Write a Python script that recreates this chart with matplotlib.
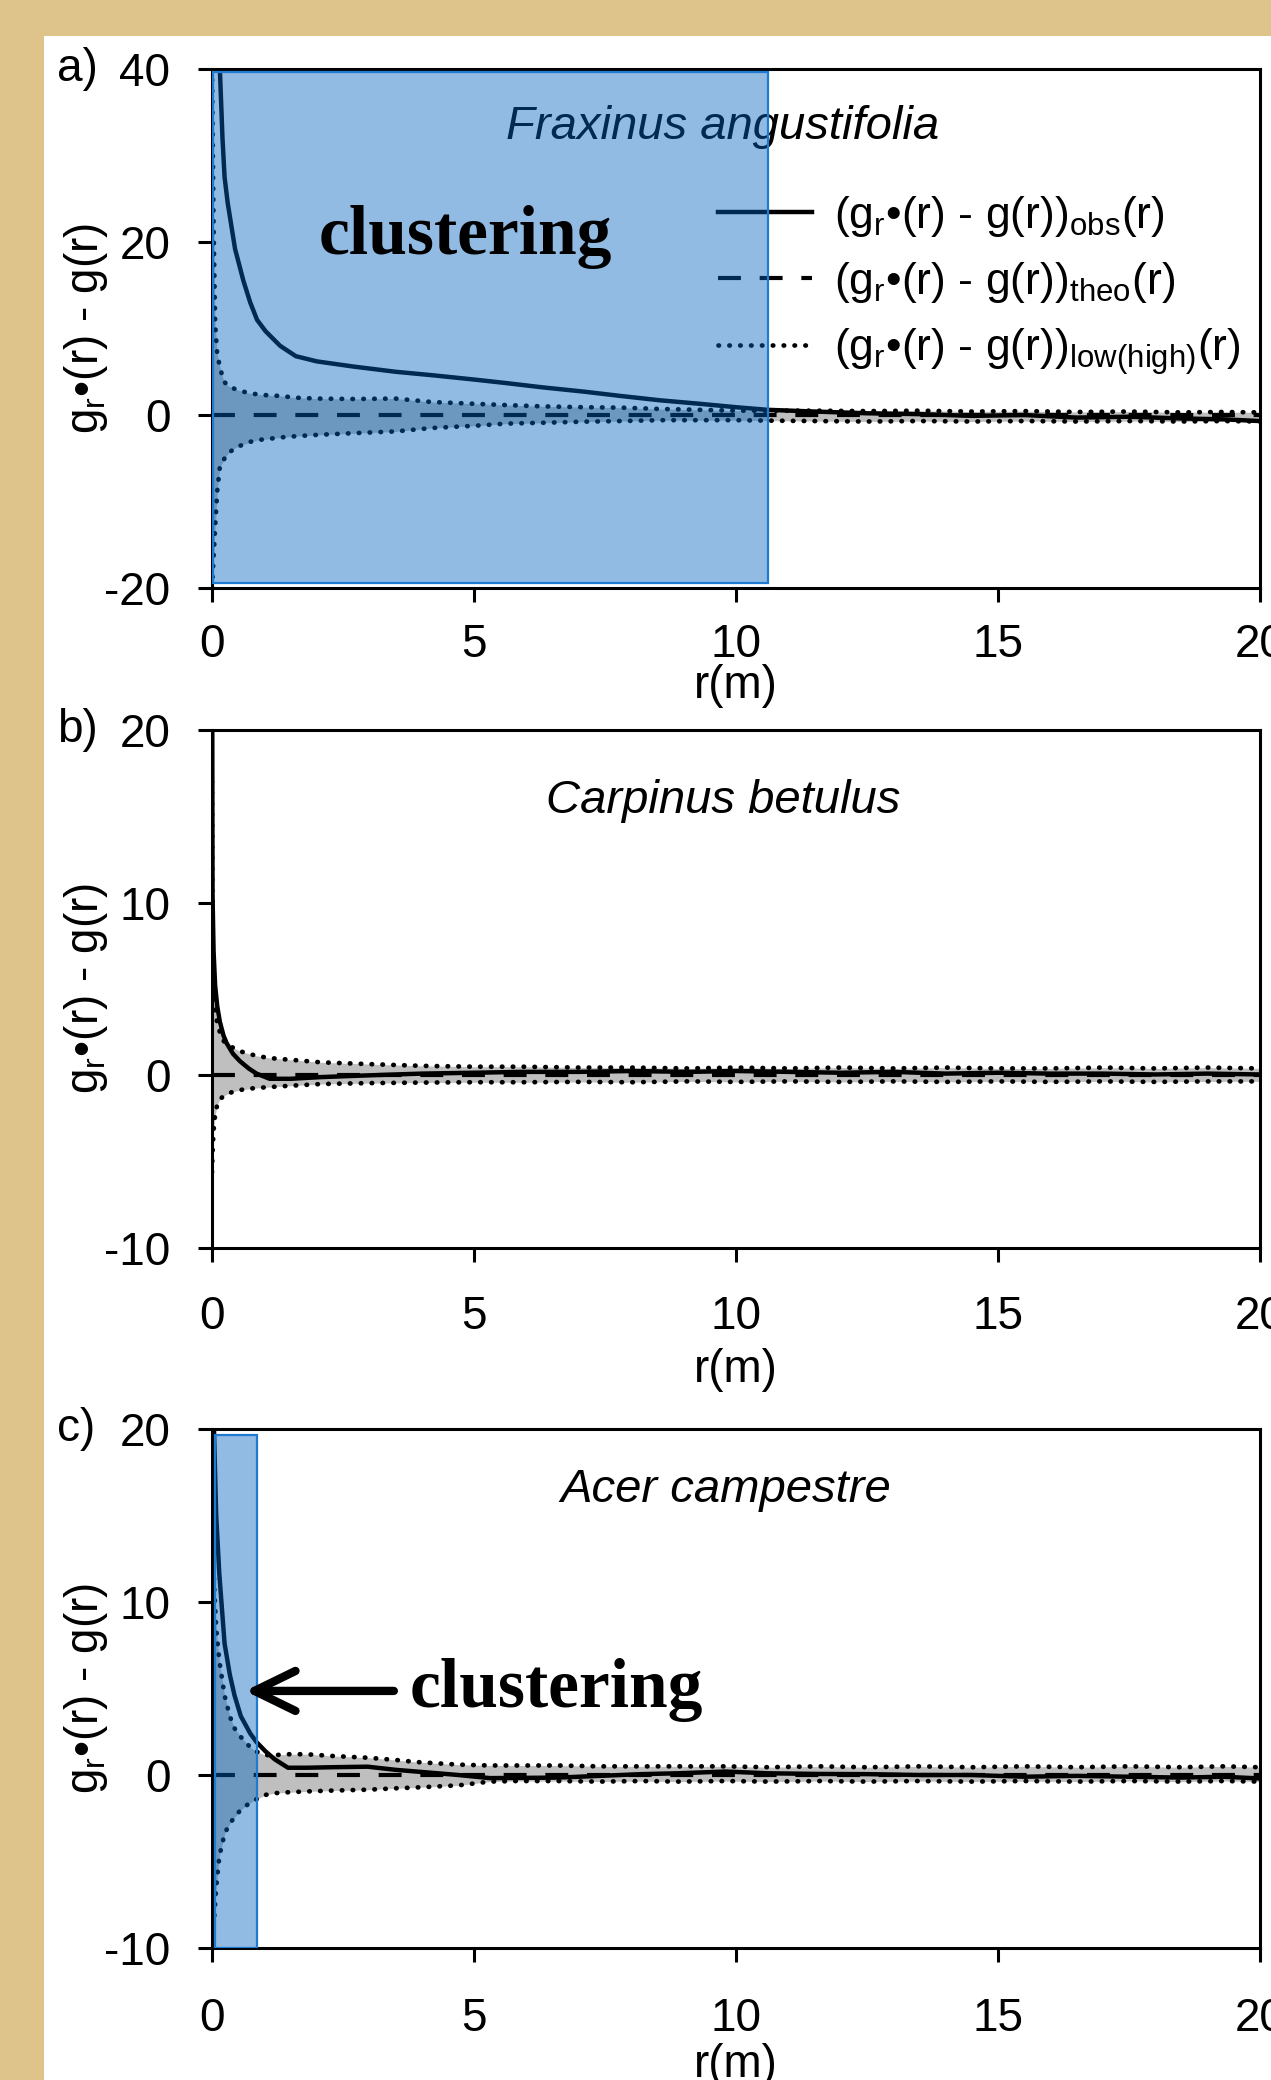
import matplotlib.pyplot as plt
from matplotlib.patches import Rectangle

plt.rcParams['font.family'] = ['Liberation Sans', 'DejaVu Sans']
plt.rcParams['mathtext.fontset'] = 'custom'
plt.rcParams['mathtext.rm'] = 'Liberation Sans'
plt.rcParams['axes.unicode_minus'] = False

# ---- data ----
species = ['Fraxinus angustifolia', 'Carpinus betulus', 'Acer campestre']
panel_tags = ['a)', 'b)', 'c)']
x_ticks = [0, 5, 10, 15, 20]
y_ticks_a = [-20, 0, 20, 40]
y_ticks_bc = [-10, 0, 10, 20]
theo_r = [0, 20]
theo_val = [0, 0]

r_a = [0.0, 0.03, 0.06, 0.1, 0.15, 0.2, 0.24, 0.3, 0.44, 0.6, 0.73, 0.86, 1.02, 1.3, 1.6,
       2.0, 2.7, 3.5, 4.2, 5.0, 5.6, 6.3, 7.1, 7.8, 8.55, 9.3, 10.0, 10.6, 11.5, 12.5,
       13.5, 14.5, 15.5, 16.5, 17.5, 18.5, 19.3, 20.0]
obs_a = [90, 75, 62, 48, 40, 32, 27.5, 24.5, 19.2, 15.5, 13.0, 11.0, 9.7, 8.0, 6.8,
         6.2, 5.6, 5.0, 4.6, 4.1, 3.7, 3.2, 2.7, 2.2, 1.7, 1.3, 0.9, 0.6, 0.4, 0.2,
         0.1, -0.1, 0.0, -0.3, -0.2, -0.4, -0.5, -0.7]
hi_a = [40, 22, 10.5, 7.0, 5.6, 4.4, 3.8, 3.4, 3.0, 2.7, 2.5, 2.4, 2.3, 2.2, 2.0,
        1.9, 1.85, 1.9, 1.5, 1.3, 1.15, 1.0, 0.9, 0.85, 0.7, 0.6, 0.5, 0.5, 0.5, 0.45,
        0.5, 0.4, 0.45, 0.35, 0.4, 0.3, 0.35, 0.3]
lo_a = [-20, -16.5, -13, -8.8, -6.0, -5.5, -5.0, -4.5, -3.8, -3.4, -3.1, -2.9, -2.8, -2.6, -2.45,
        -2.3, -2.1, -1.9, -1.5, -1.25, -1.0, -0.9, -0.77, -0.7, -0.6, -0.6, -0.6, -0.65, -0.7, -0.75,
        -0.7, -0.75, -0.7, -0.75, -0.7, -0.75, -0.7, -0.75]

r_b = [0.0, 0.01, 0.03, 0.06, 0.1, 0.15, 0.22, 0.28, 0.4, 0.53, 0.7, 0.85, 1.1, 1.5, 2.1,
       3.0, 4.0, 5.0, 5.9, 7.0, 8.0, 9.1, 10.0, 11.0, 12.0, 13.0, 14.0, 15.0, 16.0, 17.0,
       18.0, 19.0, 20.0]
obs_b = [30, 10.5, 7.2, 5.2, 4.0, 3.1, 2.3, 1.86, 1.25, 0.83, 0.4, 0.1, -0.2, -0.2, -0.1,
         0.0, 0.1, 0.15, 0.2, 0.2, 0.25, 0.2, 0.25, 0.2, 0.15, 0.2, 0.1, 0.15, 0.1, 0.1,
         0.05, 0.1, 0.05]
hi_b = [17, 8, 5, 3.8, 3.0, 2.5, 2.0, 1.8, 1.6, 1.4, 1.25, 1.13, 1.0, 0.9, 0.75,
        0.65, 0.55, 0.5, 0.5, 0.45, 0.45, 0.4, 0.45, 0.4, 0.45, 0.4, 0.45, 0.4, 0.4, 0.45,
        0.4, 0.45, 0.4]
lo_b = [-5.6, -4.5, -3.2, -2.3, -1.7, -1.4, -1.2, -1.1, -0.95, -0.85, -0.78, -0.73, -0.68, -0.6, -0.5,
        -0.45, -0.42, -0.4, -0.4, -0.38, -0.4, -0.35, -0.38, -0.35, -0.38, -0.35, -0.38, -0.35, -0.38, -0.35,
        -0.38, -0.35, -0.35]

r_c = [0.0, 0.02, 0.04, 0.08, 0.14, 0.24, 0.34, 0.43, 0.55, 0.73, 0.85, 1.02, 1.2, 1.45, 1.8,
       2.3, 2.97, 3.5, 3.9, 4.7, 5.3, 5.8, 6.6, 7.4, 8.2, 8.9, 9.8, 10.6, 11.6, 12.5,
       13.5, 14.5, 15.5, 16.5, 17.5, 18.5, 19.3, 20.0]
obs_c = [30, 24, 19.7, 15, 11.6, 7.6, 5.8, 4.6, 3.4, 2.4, 1.9, 1.37, 0.9, 0.42, 0.42,
         0.45, 0.48, 0.3, 0.2, 0.0, -0.18, -0.17, -0.15, -0.05, 0.05, 0.1, 0.2, 0.1, 0.06, 0.05,
         0.0, 0.0, -0.1, -0.05, -0.1, -0.15, -0.1, -0.2]
hi_c = [17, 14, 11, 8.5, 6.6, 4.6, 3.4, 2.7, 2.2, 1.6, 1.35, 1.15, 1.15, 1.2, 1.2,
        1.1, 1.0, 0.87, 0.75, 0.6, 0.55, 0.55, 0.55, 0.5, 0.5, 0.5, 0.5, 0.45, 0.5, 0.45,
        0.5, 0.45, 0.5, 0.45, 0.5, 0.45, 0.5, 0.45]
lo_c = [-10, -9.5, -8.4, -6.5, -4.7, -3.4, -2.8, -2.45, -2.0, -1.6, -1.4, -1.15, -1.05, -1.0, -0.95,
        -0.9, -0.85, -0.77, -0.72, -0.6, -0.38, -0.35, -0.35, -0.38, -0.35, -0.38, -0.35, -0.38, -0.35, -0.38,
        -0.35, -0.38, -0.35, -0.38, -0.35, -0.38, -0.35, -0.38]

# clustering zones (r from, r to, y from, y to)
zone_a = (0.02, 10.62, -19.4, 39.6)
zone_c = (0.05, 0.85, -10.0, 19.65)

lab_obs = r'(g$_\mathregular{r}$•(r) - g(r))$_\mathregular{obs}$(r)'
lab_theo = r'(g$_\mathregular{r}$•(r) - g(r))$_\mathregular{theo}$(r)'
lab_env = r'(g$_\mathregular{r}$•(r) - g(r))$_\mathregular{low(high)}$(r)'
ylab = r'g$_\mathregular{r}$•(r) - g(r)'

fs = 33
W, H = 1271, 2080
fig = plt.figure(figsize=(W / 100, H / 100), dpi=100)
fig.patch.set_facecolor('#dec48a')
fig.add_artist(Rectangle((44 / W, 0), 1, 1 - 36 / H, transform=fig.transFigure,
                         facecolor='white', edgecolor='none', zorder=-1))

# axes boxes in pixels: top, bottom
boxes = [(69, 588), (730, 1248), (1429, 1948)]
series = [(r_a, obs_a, hi_a, lo_a), (r_b, obs_b, hi_b, lo_b), (r_c, obs_c, hi_c, lo_c)]
ylims = [(-20, 40), (-10, 20), (-10, 20)]
xpads = [15, 24, 25]
xlab_y = [-0.147, -0.193, -0.183]
title_pos = [(0.4876, 0.888), (0.4876, 0.863), (0.490, 0.882)]
dots = (0, (0.1, 2.2))

axes = []
for i in range(3):
    top, bot = boxes[i]
    ax = fig.add_axes([212 / W, 1 - bot / H, 1048 / W, (bot - top) / H])
    axes.append(ax)
    r, obs, hi, lo = series[i]
    ax.fill_between(r, lo, hi, color='#bfbfbf', lw=0, zorder=1)
    l_env, = ax.plot(r, hi, color='black', lw=3.4, ls=dots,
                     dash_capstyle='round', zorder=2)
    ax.plot(r, lo, color='black', lw=3.4, ls=dots,
            dash_capstyle='round', zorder=2)
    l_theo, = ax.plot(theo_r, theo_val, color='black', lw=3.0, ls=(0, (5.5, 4.5)), zorder=3)
    l_obs, = ax.plot(r, obs, color='black', lw=3.2, zorder=4)

    ax.set_xlim(0, 20)
    ax.set_ylim(*ylims[i])
    ax.set_xticks(x_ticks)
    ax.set_yticks(y_ticks_a if i == 0 else y_ticks_bc)
    ax.tick_params(axis='both', labelsize=fs, length=10, width=2.2, direction='out')
    ax.tick_params(axis='y', pad=20)
    ax.tick_params(axis='x', pad=xpads[i])
    for s in ax.spines.values():
        s.set_linewidth(2.2)
    ax.set_xlabel('r(m)', fontsize=fs)
    ax.xaxis.set_label_coords(0.5, xlab_y[i])
    ax.set_ylabel(ylab, fontsize=fs)
    ax.yaxis.set_label_coords(-0.097, 0.5)
    ax.text(-0.148, 1.0, panel_tags[i], transform=ax.transAxes, fontsize=fs,
            ha='left', va='center')
    ax.text(title_pos[i][0], title_pos[i][1], species[i], transform=ax.transAxes,
            fontsize=34, style='italic', ha='center', va='center', zorder=3)

    if i == 0:
        ax.legend([l_obs, l_theo, l_env], [lab_obs, lab_theo, lab_env],
                  loc='upper left', bbox_to_anchor=(0.483, 0.760), frameon=False,
                  fontsize=32, handlelength=2.1, handletextpad=0.5, labelspacing=0.48,
                  borderpad=0, borderaxespad=0)

# blue clustering zones
for ax, z in [(axes[0], zone_a), (axes[2], zone_c)]:
    ax.add_patch(Rectangle((z[0], z[2]), z[1] - z[0], z[3] - z[2],
                           facecolor=(0.0, 0.39, 0.75, 0.43), edgecolor='#1f7ad2',
                           lw=1.6, zorder=6))

axes[0].text(2.04, 18.6, 'clustering', fontsize=50, fontweight='bold',
             family='Liberation Serif', ha='left', va='baseline', zorder=7)
axes[2].text(3.78, 3.93, 'clustering', fontsize=50, fontweight='bold',
             family='Liberation Serif', ha='left', va='baseline', zorder=7)
axes[2].annotate('', xy=(0.63, 4.86), xytext=(3.47, 4.86),
                 arrowprops=dict(arrowstyle='->, head_length=2.95, head_width=1.44',
                                 lw=6, color='black', mutation_scale=10,
                                 shrinkA=0, shrinkB=0),
                 zorder=7)

fig.savefig('out.png', dpi=100, facecolor=fig.get_facecolor())
